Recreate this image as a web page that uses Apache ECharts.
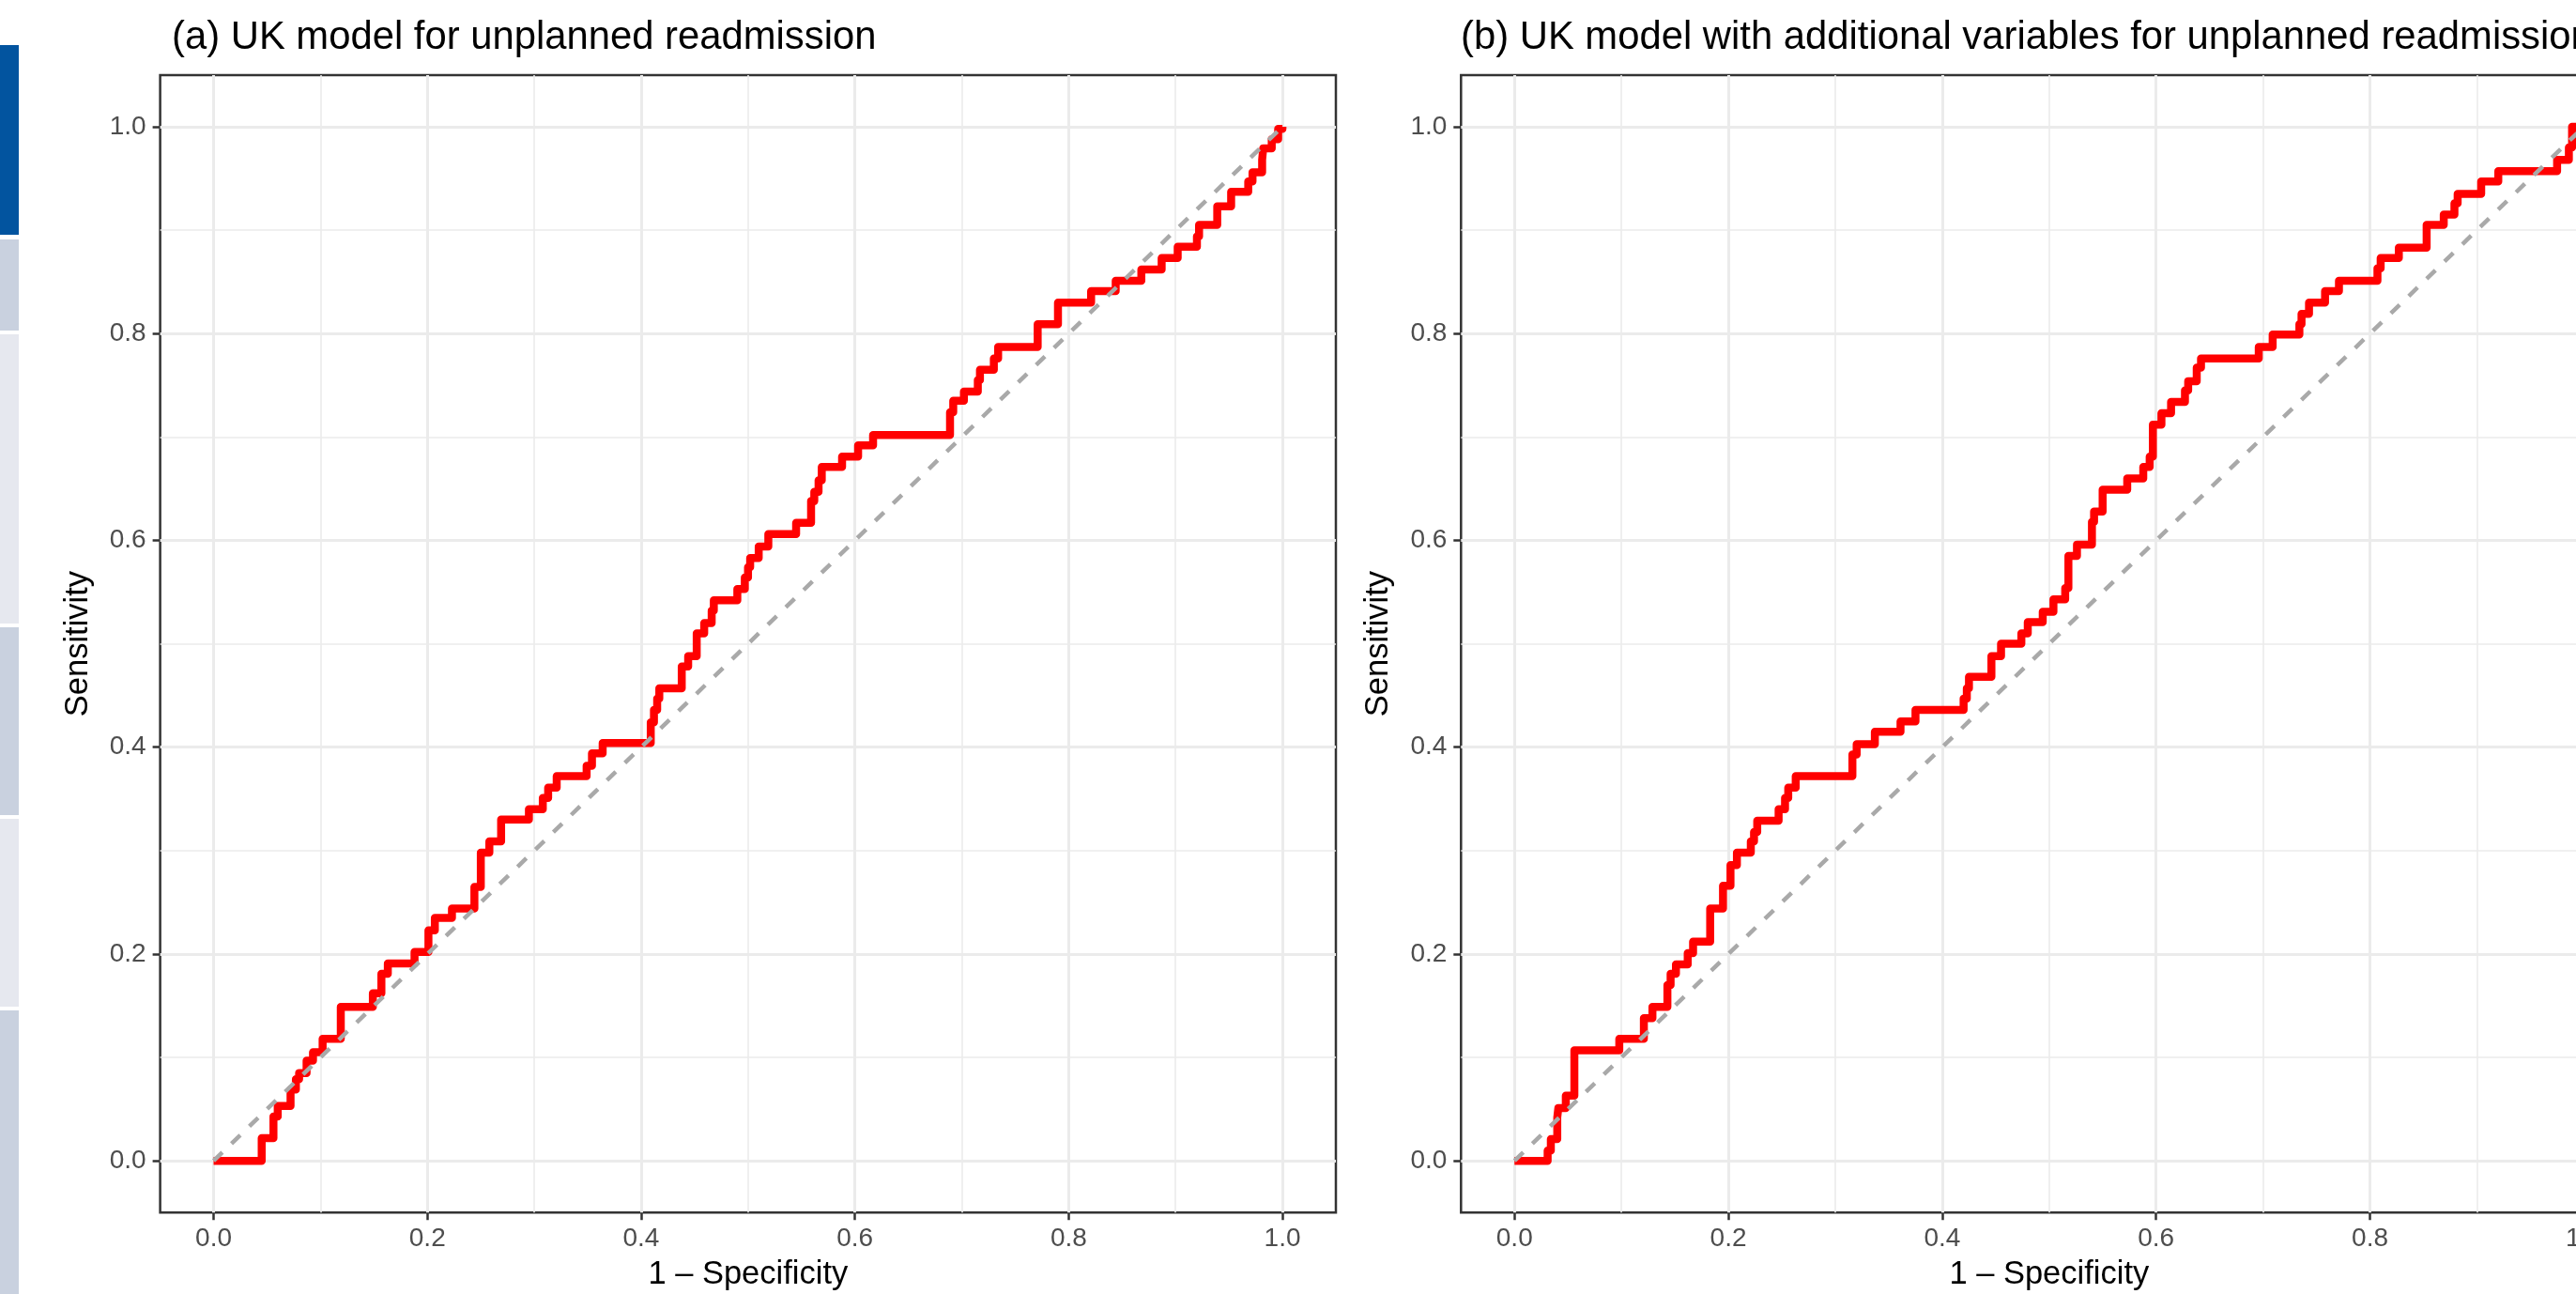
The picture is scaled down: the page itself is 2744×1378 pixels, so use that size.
<!DOCTYPE html>
<html>
<head>
<meta charset="utf-8">
<script src="https://cdn.jsdelivr.net/npm/echarts@6/dist/echarts.min.js"></script>
<style>
    html, body {margin:0;padding:0;background:#fff;}
    #chart {width:2744px;height:1378px;}
</style>
</head>
<body>
<div id="chart"></div>
<script>
    // ROC points: each pair is (1 - specificity, sensitivity) right after a step up
    var titleA = '(a) UK model for unplanned readmission';
    var titleB = '(b) UK model with additional variables for unplanned readmission';
    var xName = '1 \u2013 Specificity';
    var yName = 'Sensitivity';

    var majorTicks = [0, 0.2, 0.4, 0.6, 0.8, 1.0];
    var minorTicks = [0.1, 0.3, 0.5, 0.7, 0.9];
    var diagonal = [0, 1];

    var fprA = [0, 0.045, 0.056, 0.060, 0.072, 0.077, 0.080, 0.087, 0.093, 0.102, 0.119, 0.149, 0.157, 0.163, 0.188,
        0.201, 0.207, 0.223, 0.244, 0.250, 0.258, 0.269, 0.295, 0.308, 0.313, 0.321, 0.349, 0.354, 0.364, 0.409,
        0.412, 0.415, 0.417, 0.438, 0.444, 0.452, 0.459, 0.466, 0.468, 0.490, 0.497, 0.500, 0.502, 0.510, 0.519,
        0.545, 0.559, 0.562, 0.566, 0.569, 0.588, 0.603, 0.617, 0.689, 0.692, 0.702, 0.715, 0.717, 0.730, 0.734,
        0.771, 0.790, 0.821, 0.844, 0.868, 0.887, 0.902, 0.920, 0.922, 0.939, 0.952, 0.968, 0.972, 0.981, 0.982,
        0.990, 0.996, 1];
    var tprA = [0, 0.022, 0.043, 0.053, 0.069, 0.079, 0.085, 0.097, 0.105, 0.118, 0.149, 0.162, 0.181, 0.191, 0.202,
        0.223, 0.235, 0.244, 0.265, 0.298, 0.309, 0.330, 0.340, 0.351, 0.361, 0.372, 0.382, 0.394, 0.404, 0.424,
        0.436, 0.447, 0.457, 0.478, 0.488, 0.510, 0.520, 0.532, 0.542, 0.553, 0.564, 0.574, 0.583, 0.594, 0.606,
        0.617, 0.638, 0.647, 0.658, 0.671, 0.681, 0.692, 0.702, 0.724, 0.735, 0.744, 0.755, 0.765, 0.776, 0.787,
        0.809, 0.830, 0.841, 0.851, 0.862, 0.873, 0.884, 0.894, 0.905, 0.923, 0.937, 0.947, 0.956, 0.968, 0.979,
        0.988, 0.998, 1];

    var fprB = [0, 0.031, 0.034, 0.040, 0.041, 0.048, 0.056, 0.098, 0.121, 0.129, 0.143, 0.146, 0.151, 0.162, 0.167,
        0.183, 0.195, 0.202, 0.208, 0.221, 0.224, 0.227, 0.247, 0.253, 0.256, 0.263, 0.316, 0.320, 0.337, 0.361,
        0.375, 0.420, 0.423, 0.425, 0.446, 0.455, 0.474, 0.480, 0.494, 0.504, 0.515, 0.518, 0.526, 0.540, 0.542,
        0.550, 0.573, 0.588, 0.594, 0.597, 0.605, 0.614, 0.627, 0.630, 0.638, 0.642, 0.696, 0.709, 0.734, 0.736,
        0.743, 0.758, 0.771, 0.807, 0.810, 0.827, 0.853, 0.869, 0.879, 0.882, 0.904, 0.920, 0.975, 0.986, 0.989, 1];
    var tprB = [0, 0.010, 0.021, 0.042, 0.051, 0.063, 0.107, 0.118, 0.138, 0.149, 0.170, 0.181, 0.190, 0.201, 0.212,
        0.244, 0.266, 0.286, 0.298, 0.309, 0.318, 0.329, 0.340, 0.351, 0.361, 0.372, 0.393, 0.403, 0.415, 0.425,
        0.436, 0.447, 0.457, 0.468, 0.488, 0.500, 0.510, 0.521, 0.531, 0.543, 0.554, 0.585, 0.596, 0.618, 0.628,
        0.649, 0.660, 0.671, 0.681, 0.712, 0.723, 0.734, 0.745, 0.754, 0.767, 0.776, 0.787, 0.799, 0.809, 0.819,
        0.830, 0.841, 0.851, 0.863, 0.873, 0.883, 0.905, 0.915, 0.926, 0.935, 0.947, 0.957, 0.968, 0.980, 1.0, 1];

    var font = '"Liberation Sans", Arial, Helvetica, sans-serif';

    function zip(xs, ys) {
        return xs.map(function (x, i) { return [x, ys[i]]; });
    }

    function gridLines() {
        var lines = [];
        majorTicks.forEach(function (v) {
            lines.push({xAxis: v, lineStyle: {width: 3}});
            lines.push({yAxis: v, lineStyle: {width: 3}});
        });
        minorTicks.forEach(function (v) {
            lines.push({xAxis: v, lineStyle: {width: 1.6}});
            lines.push({yAxis: v, lineStyle: {width: 1.6}});
        });
        return lines;
    }

    function xAxisFor(idx) {
        return {
            type: 'value', gridIndex: idx, min: -0.05, max: 1.05,
            axisLine: {show: false, onZero: false},
            axisTick: {show: true, customValues: majorTicks, length: 8, lineStyle: {color: '#333333', width: 2.5}},
            axisLabel: {customValues: majorTicks, formatter: function (v) { return v.toFixed(1); },
                color: '#4D4D4D', fontSize: 28, fontFamily: font, margin: 14},
            splitLine: {show: false},
            name: xName, nameLocation: 'middle', nameGap: 49,
            nameTextStyle: {color: '#000', fontSize: 34.5, fontFamily: font}
        };
    }

    function yAxisFor(idx) {
        return {
            type: 'value', gridIndex: idx, min: -0.05, max: 1.05,
            axisLine: {show: false, onZero: false},
            axisTick: {show: true, customValues: majorTicks, length: 8, lineStyle: {color: '#333333', width: 2.5}},
            axisLabel: {customValues: majorTicks, formatter: function (v) { return v.toFixed(1); },
                color: '#4D4D4D', fontSize: 28, fontFamily: font, margin: 15},
            splitLine: {show: false},
            name: yName, nameLocation: 'middle', nameGap: 70,
            nameTextStyle: {color: '#000', fontSize: 34.5, fontFamily: font}
        };
    }

    function rocSeries(idx, data) {
        return {
            type: 'line', xAxisIndex: idx, yAxisIndex: idx, data: data,
            step: 'end', showSymbol: false, silent: true, z: 2,
            lineStyle: {color: '#FF0000', width: 8.5, join: 'round', cap: 'butt'}
        };
    }

    function diagSeries(idx) {
        return {
            type: 'line', xAxisIndex: idx, yAxisIndex: idx, data: zip(diagonal, diagonal),
            showSymbol: false, silent: true, z: 3,
            lineStyle: {color: '#A9A9A9', width: 4.5, type: [13, 13.5], cap: 'butt'},
            markLine: {
                z: 1, silent: true, symbol: 'none', animation: false,
                label: {show: false},
                lineStyle: {color: '#EBEBEB', type: 'solid'},
                emphasis: {disabled: true},
                data: gridLines()
            }
        };
    }

    var sidebar = [
        {y: 48, h: 202, c: '#02549F'},
        {y: 255, h: 97, c: '#C9D1DF'},
        {y: 356, h: 308, c: '#E6E8EF'},
        {y: 668, h: 200, c: '#C9D1DF'},
        {y: 872, h: 200, c: '#E6E8EF'},
        {y: 1076, h: 302, c: '#C9D1DF'}
    ];

    var chart = echarts.init(document.getElementById('chart'), null, {renderer: 'canvas'});
    var option = {
        backgroundColor: '#ffffff',
        animation: false,
        grid: [
            {left: 170.6, top: 79.9, width: 1252.4, height: 1211.4, show: true, borderColor: '#333333',
                borderWidth: 2.5, backgroundColor: 'transparent', containLabel: false, outerBoundsMode: 'none'},
            {left: 1556.3, top: 79.9, width: 1253, height: 1211.4, show: true, borderColor: '#333333',
                borderWidth: 2.5, backgroundColor: 'transparent', containLabel: false, outerBoundsMode: 'none'}
        ],
        xAxis: [xAxisFor(0), xAxisFor(1)],
        yAxis: [yAxisFor(0), yAxisFor(1)],
        graphic: sidebar.map(function (b) {
            return {type: 'rect', left: 0, top: b.y, shape: {width: 20, height: b.h}, style: {fill: b.c}, silent: true};
        }).concat([
            {type: 'text', x: 183, y: 40.5, silent: true,
                style: {text: titleA, font: '41.8px ' + font, fill: '#000', verticalAlign: 'middle'}},
            {type: 'text', x: 1556, y: 40.5, silent: true,
                style: {text: titleB, font: '41.8px ' + font, fill: '#000', verticalAlign: 'middle'}}
        ]),
        series: [
            rocSeries(0, zip(fprA, tprA)),
            diagSeries(0),
            rocSeries(1, zip(fprB, tprB)),
            diagSeries(1)
        ]
    };
    chart.setOption(option);
    window.onresize = function () {
        chart.resize();
    };
</script>
</body>
</html>
